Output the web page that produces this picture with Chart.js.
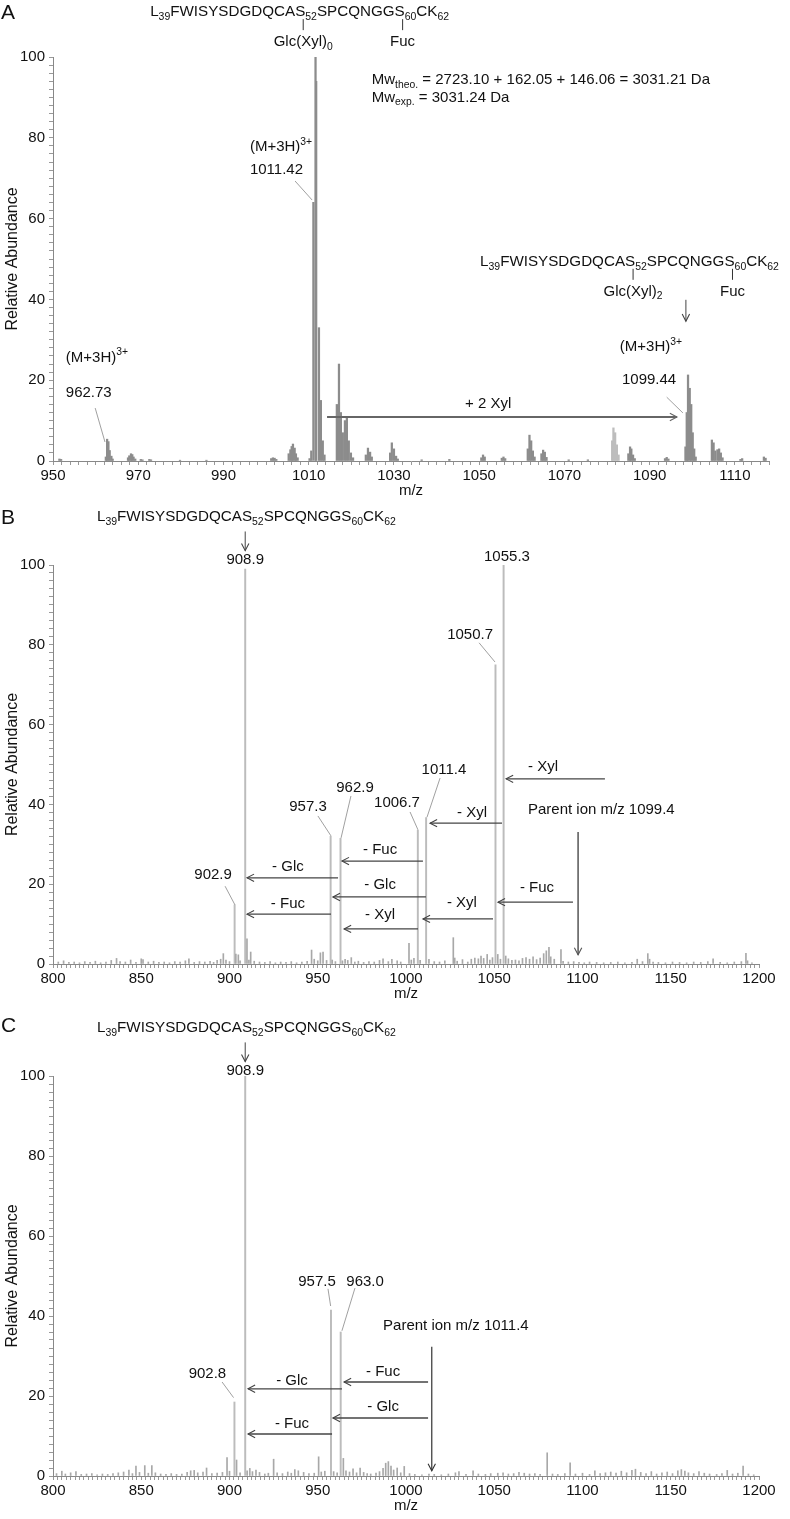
<!DOCTYPE html>
<html>
<head>
<meta charset="utf-8">
<script src="https://cdn.jsdelivr.net/npm/chart.js@4.4.1/dist/chart.umd.min.js"></script>
<style>
  html, body { margin: 0; padding: 0; background: #fff; }
  #wrap { position: relative; width: 790px; height: 1519px; overflow: hidden; }
  canvas { position: absolute; left: 0; }
</style>
</head>
<body>
<div id="wrap">
  <canvas id="cA" width="790" height="505" style="top:0"></canvas>
  <canvas id="cB" width="790" height="508" style="top:505px"></canvas>
  <canvas id="cC" width="790" height="506" style="top:1013px"></canvas>
</div>
<script>
const FAMILY = "'Liberation Sans', Arial, Helvetica, sans-serif";

// ---- data: [m/z, relative abundance] ----
// A: full MS, isotope clusters
const peaksA = [
  [951.5, 0.5], [951.9, 0.4],
  [962.4, 1.0], [962.7, 5.4], [963.0, 4.8], [963.3, 2.6], [963.7, 1.2], [964.0, 0.5],
  [967.6, 0.8], [967.9, 1.3], [968.3, 1.8], [968.6, 1.6], [968.9, 1.0], [969.3, 0.5],
  [970.6, 0.4], [971.0, 0.3], [972.6, 0.4], [973.0, 0.3], [979.8, 0.2], [986.0, 0.2],
  [1001.2, 0.6], [1001.6, 0.8], [1002.0, 0.7], [1002.4, 0.4],
  [1005.3, 1.8], [1005.7, 2.8], [1006.0, 3.6], [1006.3, 4.2], [1006.7, 3.2], [1007.0, 1.8], [1007.4, 0.8],
  [1010.2, 0.6], [1010.6, 2.5],
  [1011.1, 64], [1011.6, 100], [1011.75, 94], [1012.4, 33], [1012.85, 15], [1013.3, 5], [1013.7, 1.5],
  [1016.6, 14], [1017.1, 24], [1017.55, 12], [1018.0, 7], [1018.5, 10], [1018.95, 10.6], [1019.4, 5], [1019.9, 2], [1020.4, 0.8],
  [1023.4, 1.5], [1023.9, 3.2], [1024.4, 2.2], [1024.8, 1.0],
  [1029.1, 2.0], [1029.5, 4.5], [1030.0, 3.0], [1030.5, 1.2], [1030.9, 0.5],
  [1036.5, 0.3], [1043.0, 0.4],
  [1050.5, 0.8], [1050.9, 1.5], [1051.3, 1.0],
  [1055.3, 0.7], [1055.7, 1.0], [1056.1, 0.6],
  [1061.4, 3.0], [1061.8, 6.4], [1062.2, 5.0], [1062.6, 2.5], [1063.0, 1.0],
  [1064.6, 1.8], [1065.0, 2.7], [1065.4, 2.2], [1065.8, 0.9],
  [1071.0, 0.3], [1075.5, 0.3],
  [1085.0, 1.8], [1085.4, 3.5], [1085.7, 3.0], [1086.1, 1.5], [1086.5, 0.6],
  [1093.6, 0.6], [1094.0, 0.9], [1094.4, 0.5],
  [1098.4, 3.5], [1098.7, 12], [1099.0, 21.3], [1099.4, 18], [1099.75, 14], [1100.1, 7], [1100.45, 3], [1100.8, 1],
  [1104.6, 5.2], [1105.0, 4.5], [1105.4, 2.5], [1105.9, 2.8], [1106.3, 3.0], [1106.7, 2.0], [1107.1, 0.8],
  [1111.3, 0.4], [1111.7, 0.6], [1116.8, 1.0], [1117.2, 0.7]
];
const peaksALight = [[1081.2, 5.0], [1081.5, 8.2], [1081.9, 7.0], [1082.3, 4.0], [1082.7, 1.5]];

// B: MS/MS of 1099.4
const peaksBMain = [
  [902.9, 14.8], [908.9, 99], [957.3, 32], [962.9, 31.5],
  [1006.7, 33.5], [1011.4, 36.7], [1050.7, 75], [1055.3, 100]
];
const peaksBNoise = [
  [803, 0.5], [806, 0.8], [809, 0.4], [812, 0.5], [815, 0.3], [818, 0.6], [821, 0.4], [824, 0.7],
  [827, 0.3], [830, 0.5], [833, 0.9], [836, 1.4], [838, 0.6], [841, 0.5], [844, 1.0], [847, 0.4],
  [850, 1.3], [851, 1.1], [854, 0.5], [857, 0.7], [860, 0.4], [863, 0.5], [866, 0.3], [869, 0.6],
  [872, 0.5], [875, 0.8], [877, 1.3], [880, 0.4], [883, 0.6], [886, 0.5], [889, 0.7], [891, 0.4],
  [893, 0.9], [895, 1.2], [896.5, 2.6], [898, 1.0], [900, 0.6], [903.6, 2.5], [905, 2.3], [906, 0.8],
  [909.9, 6.3], [911, 1.0], [912, 3.0], [914, 0.7], [917, 0.5], [920, 0.4], [923, 0.6], [926, 0.3],
  [929, 0.5], [932, 0.4], [935, 0.6], [938, 0.3], [941, 0.5], [944, 0.7], [946.5, 3.5], [948, 1.2],
  [950, 0.8], [951.5, 2.8], [953, 3.0], [955, 0.9], [958.2, 1.0], [960, 0.6], [964, 0.8], [965.5, 1.2],
  [967, 0.9], [969, 1.6], [971, 0.5], [973, 0.7], [976, 0.4], [979, 0.6], [982, 0.5], [985, 0.9],
  [987, 1.3], [990, 0.6], [992, 1.2], [995, 0.8], [997, 0.5], [1001.7, 5.2], [1003, 1.0], [1004.5, 1.4],
  [1008, 0.9], [1013, 1.2], [1016, 0.6], [1019, 0.5], [1022, 0.8], [1026.8, 6.6], [1027.6, 1.5], [1029, 0.7],
  [1032, 1.1], [1035, 0.5], [1037, 1.2], [1039, 1.5], [1041, 1.3], [1042.5, 2.0], [1044, 1.4], [1046, 2.4],
  [1047.5, 1.0], [1049, 1.6], [1052, 2.4], [1053.5, 1.2], [1056.5, 2.0], [1058, 1.3], [1060, 0.9], [1062, 1.0],
  [1064, 0.8], [1066, 1.4], [1068, 1.6], [1070, 1.2], [1072, 1.8], [1074, 1.1], [1076, 1.5], [1078, 2.6],
  [1079.5, 3.3], [1081, 4.2], [1082, 1.8], [1084, 1.2], [1087.8, 3.6], [1089, 0.7], [1092, 0.5], [1095, 0.6],
  [1098, 0.4], [1101, 0.3], [1104, 0.5], [1108, 0.4], [1112, 0.3], [1116, 0.4], [1120, 0.5], [1124, 0.3],
  [1128, 0.4], [1131, 1.2], [1134, 0.6], [1137, 2.6], [1138, 1.2], [1140, 0.5], [1143, 0.4], [1147, 0.3],
  [1151, 0.5], [1155, 0.4], [1159, 0.3], [1163, 0.5], [1167, 0.4], [1171, 0.6], [1174, 1.3], [1178, 0.4],
  [1182, 0.3], [1186, 0.5], [1190, 0.6], [1192.6, 2.7], [1193.5, 0.8], [1196, 0.3]
];

// C: MS/MS of 1011.4
const peaksCMain = [[902.8, 18.5], [908.9, 100], [957.5, 41.5], [963.0, 36]];
const peaksCNoise = [
  [802, 0.6], [805, 1.2], [807, 0.5], [810, 0.8], [813, 1.1], [816, 0.4], [819, 0.5], [822, 0.6],
  [825, 0.3], [828, 0.5], [831, 0.4], [834, 0.6], [837, 0.8], [840, 1.0], [843, 1.5], [845, 0.6],
  [847, 2.5], [849, 0.9], [852, 2.6], [854, 0.7], [856, 2.6], [858, 0.8], [861, 0.5], [864, 0.4],
  [867, 0.6], [870, 0.4], [873, 0.5], [876, 0.9], [878, 1.3], [880, 1.4], [882, 0.8], [885, 1.0],
  [887, 2.0], [890, 0.6], [893, 0.7], [896, 0.9], [898.6, 4.6], [900, 1.2], [904, 4.0], [906, 0.8],
  [910, 1.3], [911.5, 1.9], [913, 1.1], [915, 1.5], [917, 0.9], [920, 0.5], [922, 0.7], [925, 4.2],
  [927, 0.8], [930, 0.6], [933, 1.0], [935, 0.7], [937, 1.6], [939, 1.3], [942, 0.9], [945, 0.6],
  [948, 0.7], [950.5, 4.8], [952, 1.0], [954, 1.2], [959, 1.1], [961, 0.8], [964.5, 4.4], [966, 1.3],
  [968, 1.0], [970, 1.8], [972, 0.8], [974, 2.0], [976, 0.9], [978, 0.6], [980, 0.5], [983, 0.7],
  [985, 1.1], [987, 1.9], [988.5, 3.2], [990, 3.6], [991.5, 2.5], [993, 1.5], [995, 2.0], [997, 0.8],
  [999, 2.4], [1002, 0.6], [1005, 0.4], [1009, 0.3], [1013, 0.5], [1016, 0.4], [1020, 0.3], [1024, 0.5],
  [1028, 0.8], [1030, 1.1], [1034, 0.4], [1038, 1.3], [1041, 0.5], [1045, 0.4], [1048, 0.6], [1052, 0.7],
  [1055, 0.8], [1058, 0.5], [1061, 0.6], [1064, 0.9], [1067, 0.7], [1070, 0.5], [1073, 0.6], [1076, 0.4],
  [1080, 5.8], [1083, 0.5], [1086, 0.4], [1090, 0.6], [1093, 3.3], [1096, 0.5], [1100, 0.7], [1104, 0.4],
  [1107, 1.3], [1110, 0.6], [1113, 0.8], [1116, 1.0], [1119, 0.7], [1122, 1.2], [1125, 0.8], [1128, 1.4],
  [1130, 1.7], [1133, 0.9], [1136, 0.6], [1139, 1.1], [1142, 0.5], [1145, 0.8], [1148, 1.0], [1151, 0.6],
  [1154, 1.3], [1156, 1.6], [1158, 1.2], [1160, 0.8], [1163, 0.6], [1166, 1.1], [1169, 0.7], [1172, 0.5],
  [1176, 0.4], [1179, 0.6], [1182, 1.4], [1185, 0.5], [1188, 0.7], [1191, 2.5], [1194, 0.5], [1197, 0.3]
];

// tick labels
const xLabelsA = [950, 970, 990, 1010, 1030, 1050, 1070, 1090, 1110];
const xLabelsBC = [800, 850, 900, 950, 1000, 1050, 1100, 1150, 1200];
const yLabels = [0, 20, 40, 60, 80, 100];

// peptide sequence with residue numbers as subscripts
const SEQ = [["L", ""], ["39", "sub"], ["FWISYSDGDQCA", ""], ["S", ""], ["52", "sub"],
             ["SPCQNGG", ""], ["S", ""], ["60", "sub"], ["CK", ""], ["62", "sub"]];
const M3H = [["(M+3H)", ""], ["3+", "sup"]];

// ---- annotations, placed in data units (m/z, abundance) ----
const notesA = [
  { t: "seq", x: 972.8, y: 111.1, br: [[["Glc(Xyl)", ""], ["0", "sub"]], [["Fuc", ""]]] },
  { t: "rich", x: 1024.8, y: 94.3, p: [["Mw", ""], ["theo.", "sub"], [" = 2723.10 + 162.05 + 146.06 = 3031.21 Da", ""]] },
  { t: "rich", x: 1024.8, y: 89.9, p: [["Mw", ""], ["exp.", "sub"], [" = 3031.24 Da", ""]] },
  { t: "rich", x: 996.2, y: 77.7, p: M3H },
  { t: "rich", x: 996.2, y: 72.0, p: [["1011.42", ""]] },
  { t: "line", x1: 1006.8, y1: 69.3, x2: 1010.8, y2: 64.6 },
  { t: "rich", x: 953.0, y: 25.5, p: M3H },
  { t: "rich", x: 953.0, y: 16.8, p: [["962.73", ""]] },
  { t: "line", x1: 959.9, y1: 13.1, x2: 962.2, y2: 4.7 },
  { t: "seq", x: 1050.2, y: 49.3, br: [[["Glc(Xyl)", ""], ["2", "sub"]], [["Fuc", ""]]] },
  { t: "arrow", x1: 1098.5, y1: 39.9, x2: 1098.5, y2: 34.6, w: 1 },
  { t: "rich", x: 1083.0, y: 28.2, p: M3H },
  { t: "rich", x: 1083.5, y: 20.0, p: [["1099.44", ""]] },
  { t: "line", x1: 1094.0, y1: 15.8, x2: 1097.8, y2: 11.9 },
  { t: "arrow", x1: 1014.3, y1: 10.9, x2: 1096.4, y2: 10.9, w: 2, c: "#666" },
  { t: "label", x: 1052.1, y: 14.1, s: "+ 2 Xyl" }
];

const notesB = [
  { t: "seq", x: 824.9, y: 112.0 },
  { t: "arrow", x1: 908.9, y1: 108.4, x2: 908.9, y2: 103.6, w: 1 },
  { t: "label", x: 908.9, y: 101.3, s: "908.9" },
  { t: "label", x: 1057.2, y: 102.0, s: "1055.3" },
  { t: "label", x: 1036.3, y: 82.5, s: "1050.7" },
  { t: "line", x1: 1041.4, y1: 80.5, x2: 1050.4, y2: 75.7 },
  { t: "label", x: 1021.5, y: 48.6, s: "1011.4" },
  { t: "line", x1: 1019.3, y1: 46.6, x2: 1011.9, y2: 36.8 },
  { t: "label", x: 971.1, y: 44.1, s: "962.9" },
  { t: "line", x1: 968.8, y1: 42.1, x2: 963.2, y2: 31.6 },
  { t: "label", x: 944.5, y: 39.3, s: "957.3" },
  { t: "line", x1: 950.1, y1: 37.1, x2: 957.5, y2: 32.1 },
  { t: "label", x: 994.9, y: 40.4, s: "1006.7" },
  { t: "line", x1: 1002.3, y1: 38.1, x2: 1006.8, y2: 33.6 },
  { t: "label", x: 890.7, y: 22.3, s: "902.9" },
  { t: "line", x1: 897.5, y1: 19.5, x2: 903.1, y2: 14.8 },
  { t: "arrow", x1: 1112.7, y1: 46.4, x2: 1056.7, y2: 46.4 },
  { t: "label", x: 1077.6, y: 49.4, s: "- Xyl" },
  { t: "rich", x: 1069.1, y: 38.6, p: [["Parent ion m/z 1099.4", ""]] },
  { t: "arrow", x1: 1097.5, y1: 33.1, x2: 1097.5, y2: 2.3, w: 1.5, c: "#555" },
  { t: "arrow", x1: 1054.4, y1: 35.3, x2: 1013.6, y2: 35.3 },
  { t: "label", x: 1037.4, y: 37.8, s: "- Xyl" },
  { t: "arrow", x1: 1094.6, y1: 15.5, x2: 1052.1, y2: 15.5 },
  { t: "label", x: 1074.2, y: 19.0, s: "- Fuc" },
  { t: "arrow", x1: 1049.3, y1: 11.3, x2: 1009.6, y2: 11.3 },
  { t: "label", x: 1031.7, y: 15.3, s: "- Xyl" },
  { t: "arrow", x1: 1009.6, y1: 25.8, x2: 963.7, y2: 25.8 },
  { t: "label", x: 985.3, y: 28.6, s: "- Fuc" },
  { t: "arrow", x1: 1011.3, y1: 16.8, x2: 958.6, y2: 16.8 },
  { t: "label", x: 985.3, y: 19.8, s: "- Glc" },
  { t: "arrow", x1: 1006.8, y1: 8.8, x2: 964.9, y2: 8.8 },
  { t: "label", x: 985.3, y: 12.3, s: "- Xyl" },
  { t: "arrow", x1: 961.5, y1: 21.6, x2: 909.9, y2: 21.6 },
  { t: "label", x: 933.1, y: 24.3, s: "- Glc" },
  { t: "arrow", x1: 957.5, y1: 12.5, x2: 909.9, y2: 12.5 },
  { t: "label", x: 933.1, y: 15.0, s: "- Fuc" }
];

const notesC = [
  { t: "seq", x: 824.9, y: 112.0 },
  { t: "arrow", x1: 908.9, y1: 108.4, x2: 908.9, y2: 103.6, w: 1 },
  { t: "label", x: 908.9, y: 101.3, s: "908.9" },
  { t: "label", x: 949.6, y: 48.5, s: "957.5" },
  { t: "line", x1: 955.8, y1: 46.8, x2: 957.3, y2: 42.5 },
  { t: "label", x: 976.8, y: 48.5, s: "963.0" },
  { t: "line", x1: 971.1, y1: 47.0, x2: 963.7, y2: 36.3 },
  { t: "rich", x: 987.0, y: 37.5, p: [["Parent ion m/z 1011.4", ""]] },
  { t: "arrow", x1: 1014.6, y1: 32.3, x2: 1014.6, y2: 1.3, w: 1.2, c: "#333" },
  { t: "arrow", x1: 1012.5, y1: 23.5, x2: 964.9, y2: 23.5 },
  { t: "label", x: 987.0, y: 26.0, s: "- Fuc" },
  { t: "arrow", x1: 1012.5, y1: 14.5, x2: 958.6, y2: 14.5 },
  { t: "label", x: 987.0, y: 17.3, s: "- Glc" },
  { t: "arrow", x1: 963.7, y1: 21.8, x2: 910.5, y2: 21.8 },
  { t: "label", x: 935.4, y: 23.8, s: "- Glc" },
  { t: "arrow", x1: 958.1, y1: 10.5, x2: 910.5, y2: 10.5 },
  { t: "label", x: 935.4, y: 13.0, s: "- Fuc" },
  { t: "label", x: 887.5, y: 25.5, s: "902.8" },
  { t: "line", x1: 895.8, y1: 23.5, x2: 902.3, y2: 19.6 }
];

// ---- drawing helpers ----
function rich(ctx, x, y, parts, size, align) {
  const fontFor = (k) => (k ? size * 0.69 : size) + "px " + FAMILY;
  let total = 0;
  parts.forEach(([s, k]) => { ctx.font = fontFor(k); total += ctx.measureText(s).width; });
  let cx = align === "center" ? x - total / 2 : x;
  const pos = [];
  parts.forEach(([s, k]) => {
    ctx.font = fontFor(k);
    const dy = k === "sub" ? size * 0.32 : k === "sup" ? -size * 0.36 : 0;
    ctx.fillText(s, cx, y + dy);
    const w = ctx.measureText(s).width;
    pos.push([cx, w]);
    cx += w;
  });
  return pos;
}

function arrow(ctx, x1, y1, x2, y2, w, c) {
  ctx.strokeStyle = c;
  ctx.lineWidth = w;
  ctx.beginPath(); ctx.moveTo(x1, y1); ctx.lineTo(x2, y2); ctx.stroke();
  const a = Math.atan2(y2 - y1, x2 - x1), L = 8, s = 0.48;
  ctx.lineWidth = 1.1;
  ctx.beginPath();
  ctx.moveTo(x2 - L * Math.cos(a - s), y2 - L * Math.sin(a - s));
  ctx.lineTo(x2, y2);
  ctx.lineTo(x2 - L * Math.cos(a + s), y2 - L * Math.sin(a + s));
  ctx.stroke();
}

const notesPlugin = {
  id: "notes",
  afterDraw(chart, args, opts) {
    const ctx = chart.ctx;
    const X = (v) => chart.scales.x.getPixelForValue(v);
    const Y = (v) => chart.scales.y.getPixelForValue(v);
    ctx.save();
    ctx.textBaseline = "middle";
    ctx.textAlign = "left";
    ctx.fillStyle = "#111";
    ctx.font = "21px " + FAMILY;
    ctx.fillText(opts.letter, 1, 13);

    opts.items.forEach((it) => {
      ctx.fillStyle = "#111";
      if (it.t === "label") {
        rich(ctx, X(it.x), Y(it.y), [[it.s, ""]], 15, "center");
      } else if (it.t === "rich") {
        rich(ctx, X(it.x), Y(it.y), it.p, 15, "left");
      } else if (it.t === "line") {
        ctx.strokeStyle = "#888";
        ctx.lineWidth = 0.8;
        ctx.beginPath(); ctx.moveTo(X(it.x1), Y(it.y1)); ctx.lineTo(X(it.x2), Y(it.y2)); ctx.stroke();
      } else if (it.t === "arrow") {
        arrow(ctx, X(it.x1), Y(it.y1), X(it.x2), Y(it.y2), it.w || 1.3, it.c || "#444");
      } else if (it.t === "seq") {
        const y0 = Y(it.y);
        const pos = rich(ctx, X(it.x), y0, SEQ, 15.2, "left");
        if (it.br) {
          [pos[3], pos[6]].forEach(([sx, sw], i) => {
            const bx = sx + sw / 2 + 3;
            ctx.strokeStyle = "#333";
            ctx.lineWidth = 1;
            ctx.beginPath(); ctx.moveTo(bx, y0 + 7); ctx.lineTo(bx, y0 + 18); ctx.stroke();
            ctx.fillStyle = "#111";
            rich(ctx, bx, y0 + 30, it.br[i], 15, "center");
          });
        }
      }
    });
    ctx.restore();
  }
};

function tickValues(min, max, step) {
  const out = [];
  for (let i = 0; min + i * step <= max + 1e-9; i++) out.push(min + i * step);
  return out;
}

function makeChart(id, cfg) {
  const font = { family: FAMILY, size: 15 };
  return new Chart(document.getElementById(id), {
    type: "bar",
    data: {
      datasets: cfg.sets.map((s) => ({
        data: s.data.map(([x, y]) => ({ x, y })),
        backgroundColor: s.color,
        barThickness: s.w,
        stack: "all"
      }))
    },
    options: {
      responsive: false,
      animation: false,
      layout: { padding: cfg.pad },
      plugins: {
        legend: { display: false },
        tooltip: { enabled: false },
        notes: { items: cfg.notes, letter: cfg.letter }
      },
      scales: {
        x: {
          type: "linear",
          min: cfg.xmin,
          max: cfg.xmax,
          offset: false,
          afterBuildTicks: (s) => { s.ticks = tickValues(cfg.xmin, cfg.xmax, cfg.xstep).map((v) => ({ value: v })); },
          afterFit: (s) => { s.height = 39; },
          ticks: {
            autoSkip: false, maxRotation: 0, minRotation: 0, padding: 2, color: "#111", font,
            callback: (v) => (cfg.xLabels.includes(v) ? String(v) : "")
          },
          grid: { drawOnChartArea: false, offset: false, tickLength: 4, color: "#999", tickWidth: 1 },
          border: { color: "#888", width: 1 },
          title: { display: true, text: "m/z", color: "#111", font, padding: 0 }
        },
        y: {
          min: 0,
          max: 100,
          stacked: false,
          afterBuildTicks: (s) => { s.ticks = tickValues(0, 100, 2).map((v) => ({ value: v })); },
          afterFit: (s) => { s.width = 53; },
          ticks: {
            autoSkip: false, padding: 4, color: "#111", font,
            callback: (v) => (yLabels.includes(v) ? String(v) : "")
          },
          grid: { drawOnChartArea: false, tickLength: 4, color: "#999" },
          border: { color: "#888", width: 1 },
          title: {
            display: true, text: "Relative Abundance", color: "#111",
            font: { family: FAMILY, size: 16 }, padding: { top: 2.5, bottom: 0 }
          }
        }
      }
    },
    plugins: [notesPlugin]
  });
}

makeChart("cA", {
  letter: "A", notes: notesA, xmin: 950, xmax: 1118, xstep: 2, xLabels: xLabelsA,
  pad: { top: 57, right: 21, bottom: 5, left: 0 },
  sets: [
    { data: peaksA, color: "#8c8c8c", w: 1.6 },
    { data: peaksALight, color: "#bdbdbd", w: 1.6 }
  ]
});

makeChart("cB", {
  letter: "B", notes: notesB, xmin: 800, xmax: 1200, xstep: 2.5, xLabels: xLabelsBC,
  pad: { top: 60, right: 31, bottom: 10, left: 0 },
  sets: [
    { data: peaksBNoise, color: "#a8a8a8", w: 1 },
    { data: peaksBMain, color: "#bcbcbc", w: 1.3 }
  ]
});

makeChart("cC", {
  letter: "C", notes: notesC, xmin: 800, xmax: 1200, xstep: 2.5, xLabels: xLabelsBC,
  pad: { top: 63, right: 31, bottom: 4, left: 0 },
  sets: [
    { data: peaksCNoise, color: "#a8a8a8", w: 1 },
    { data: peaksCMain, color: "#bcbcbc", w: 1.3 }
  ]
});
</script>
</body>
</html>
